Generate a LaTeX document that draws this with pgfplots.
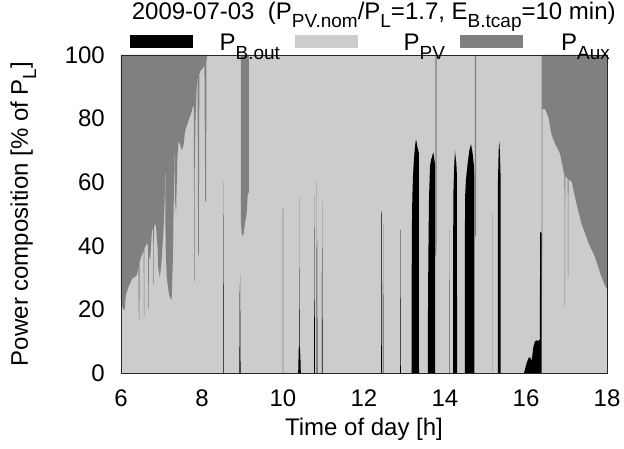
\documentclass[border=0pt]{standalone}
\usepackage{fontspec}
\setmainfont{Liberation Sans}
\usepackage{pgfplots}
\pgfplotsset{compat=1.18}
\definecolor{pv}{HTML}{CCCCCC}
\definecolor{aux}{HTML}{808080}
\newcommand{\sub}[1]{\raisebox{-0.34em}{\fontsize{19bp}{19bp}\selectfont #1}}
\begin{document}
\fontsize{24bp}{28bp}\selectfont
\begin{tikzpicture}
\begin{axis}[
 name=ax,
 scale only axis, width=486bp, height=318bp,
 xmin=6, xmax=18, ymin=0, ymax=100,
 xtick={6,8,...,18}, ytick={0,20,...,100},
 major tick length=0pt,
 axis on top,
 axis line style={line width=0.8bp, draw=black!85},
 /pgf/number format/assume math mode=true,
 xticklabel style={inner sep=0pt, yshift=-17bp},
 yticklabel style={inner sep=0pt, xshift=-16bp},
 title={2009-07-03\ \ (P\sub{PV.nom}/P\sub{L}=1.7, E\sub{B.tcap}=10 min)},
 title style={at={(axis description cs:0.52,1.094)}, anchor=base, inner sep=0pt},
 xlabel={Time of day [h]},
 xlabel style={at={(axis description cs:0.5,-0.196)}, anchor=base, inner sep=0pt},
 ylabel={Power composition [\% of P\sub{L}]},
 ylabel style={at={(axis description cs:-0.1914,0.5)}, anchor=base, inner sep=0pt},
 legend columns=3,
 legend style={at={(axis description cs:0.0185,1.033)}, anchor=west, draw=none, fill=none,
   inner sep=0pt, outer sep=0pt,
   nodes={inner sep=0pt, text width=87bp, align=right},
   /tikz/every even column/.append style={column sep=15bp}},
 legend image code/.code={\path[#1] (0bp,-3.5bp) rectangle (63bp,9.5bp);},
]
\addlegendimage{fill=black, draw=none}
\addlegendimage{fill=pv, draw=none}
\addlegendimage{fill=aux, draw=none}
\legend{P\sub{B.out}, P\sub{PV}, P\sub{Aux}}

% P_PV background (fills the remainder)
\addplot[fill=pv, draw=none, forget plot] coordinates {(6,100) (18,100)} \closedcycle;

% P_Aux, morning
\addplot[fill=aux, draw=none, forget plot] coordinates {
(6.00,100) (6.00,22.4) (6.03,21) (6.06,20) (6.09,19.8) (6.12,24.5) (6.18,27) (6.22,28)
(6.28,29.8) (6.35,30.3) (6.40,31) (6.43,34.5) (6.44,16.7) (6.455,16.7) (6.46,35)
(6.50,36.6) (6.56,38.7) (6.565,17.7) (6.575,17.7) (6.58,39) (6.63,40.8) (6.67,40)
(6.675,19.8) (6.685,19.8) (6.69,37) (6.72,35.5) (6.76,44) (6.795,46) (6.80,28)
(6.81,28) (6.815,46) (6.86,47) (6.90,40) (6.92,33) (6.96,30) (7.00,35) (7.05,45)
(7.08,55) (7.085,62.8) (7.095,62.8) (7.10,40) (7.13,30) (7.17,26) (7.20,24) (7.25,23)
(7.28,35) (7.31,60) (7.315,69) (7.325,69) (7.33,55) (7.36,50) (7.39,67) (7.41,71)
(7.42,72.7) (7.46,72) (7.50,70) (7.55,72) (7.58,76) (7.62,77.5) (7.66,79) (7.70,80.6)
(7.74,82) (7.78,84) (7.80,84) (7.805,29) (7.815,29) (7.82,64) (7.84,80) (7.87,90)
(7.89,94) (7.905,38) (7.92,36.6) (7.935,94) (7.96,95) (8.00,95.5) (8.03,96) (8.06,97)
(8.08,54) (8.10,54) (8.11,98) (8.13,100)
} -- cycle;

% P_Aux band near 9 h
\addplot[fill=aux, draw=none, forget plot] coordinates {
(8.96,100) (8.96,48) (8.98,44) (9.00,43) (9.03,44) (9.06,47) (9.10,50) (9.13,56) (9.16,57) (9.16,100)
} -- cycle;

% thin P_Aux lines
\addplot[fill=aux, draw=none, forget plot] coordinates {
(13.76,100) (13.761,37) (13.79,37) (13.791,100)} -- cycle;
\addplot[fill=aux, draw=none, forget plot] coordinates {
(14.74,100) (14.741,43) (14.77,43) (14.771,100)} -- cycle;

% P_Aux, evening
\addplot[fill=aux, draw=none, forget plot] coordinates {
(16.388,100) (16.389,23) (16.40,23) (16.405,83) (16.47,83) (16.55,80.6) (16.63,75)
(16.72,72) (16.84,69) (16.92,64) (16.95,62) (16.955,21) (16.965,21) (16.97,62)
(17.03,61) (17.035,30) (17.045,30) (17.05,61) (17.13,60) (17.25,53) (17.37,47)
(17.54,41) (17.70,36.6) (17.87,30) (17.97,27) (18,26.5) (18,100)
} -- cycle;

% P_B.out
\addplot[fill=black, draw=none, forget plot] coordinates {
(8.52,0) (8.53,60) (8.535,0)
(8.922,0) (8.925,28) (8.935,0) (8.938,0) (8.94,31) (8.952,0)
(9.995,0) (10.0,52) (10.004,0)
(10.375,0) (10.38,3) (10.39,8) (10.40,9) (10.405,55) (10.41,9) (10.42,7) (10.43,5) (10.44,0)
(10.77,0) (10.775,56) (10.79,0)
(10.83,0) (10.835,60) (10.85,0)
(10.96,0) (10.965,54) (10.98,0)
(12.425,0) (12.43,50) (12.44,51) (12.45,0)
(12.478,0) (12.48,47) (12.483,0)
(12.89,0) (12.895,45) (12.908,0)
(13.175,0) (13.177,30) (13.185,48) (13.193,55) (13.21,62) (13.227,66) (13.25,70)
(13.268,72) (13.284,73.5) (13.30,72.5) (13.32,71) (13.341,70) (13.356,69) (13.358,0)
(13.578,0) (13.58,20) (13.588,35) (13.605,55) (13.63,65) (13.654,67) (13.68,68)
(13.712,69.5) (13.737,67) (13.753,66) (13.755,0)
(14.108,0) (14.11,45) (14.113,0)
(14.198,0) (14.20,40) (14.21,58) (14.23,66) (14.247,70) (14.26,68) (14.28,66) (14.295,62) (14.297,0)
(14.492,0) (14.494,55) (14.519,61) (14.56,66) (14.601,70) (14.642,72) (14.683,69)
(14.716,65) (14.724,62) (14.726,0)
(15.168,0) (15.17,50) (15.172,0)
(15.306,0) (15.308,60) (15.325,70) (15.342,73) (15.36,68) (15.372,62) (15.375,0)
(15.951,0) (16.00,2.5) (16.057,4.6) (16.099,5) (16.14,3.8) (16.181,8.2) (16.22,9.9)
(16.264,10.3) (16.305,10) (16.33,10.5) (16.345,10.5) (16.346,44.4) (16.386,44) (16.388,0)
} \closedcycle;
\end{axis}
\path ([shift={(-121bp,-76bp)}]ax.south west) rectangle ([shift={(503bp,373bp)}]ax.south west);
\end{tikzpicture}
\end{document}
